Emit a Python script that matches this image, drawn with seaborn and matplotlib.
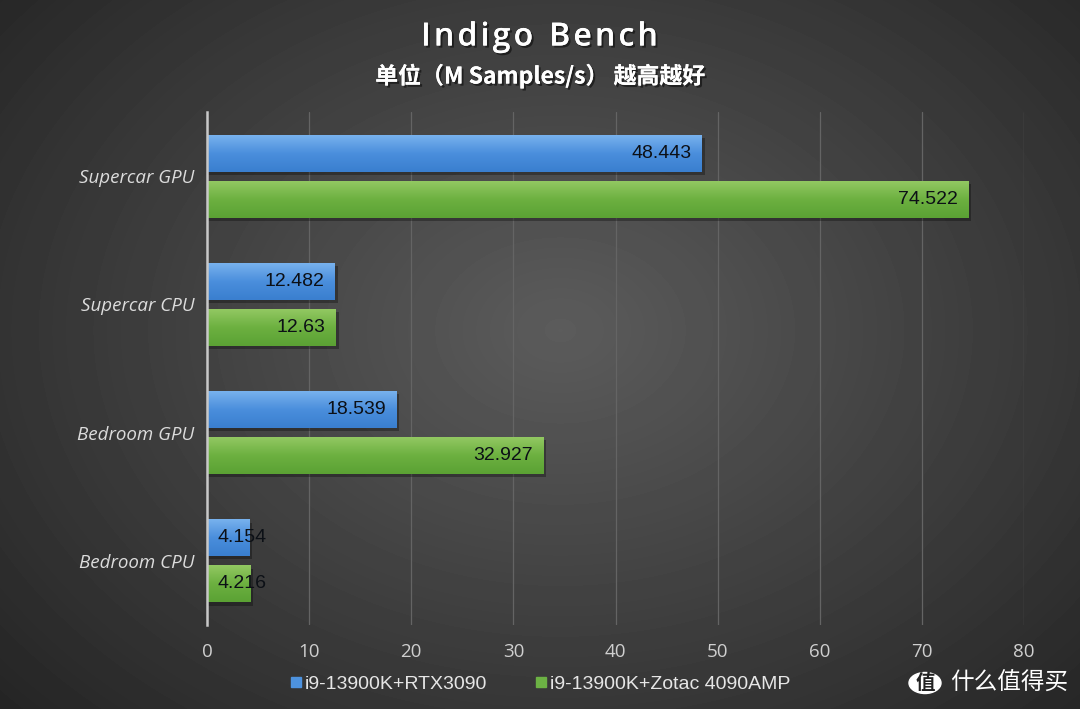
import numpy as np
import pandas as pd
import matplotlib
matplotlib.use("Agg")
import matplotlib.pyplot as plt
import matplotlib.patheffects as pe
from matplotlib.colors import LinearSegmentedColormap
import seaborn as sns

categories = ["Supercar GPU", "Supercar CPU", "Bedroom GPU", "Bedroom CPU"]
series_names = ["i9-13900K+RTX3090", "i9-13900K+Zotac 4090AMP"]
rtx3090 = [48.443, 12.482, 18.539, 4.154]
rtx4090 = [74.522, 12.63, 32.927, 4.216]
labels_3090 = ["48.443", "12.482", "18.539", "4.154"]
labels_4090 = ["74.522", "12.63", "32.927", "4.216"]
x_ticks = [0, 10, 20, 30, 40, 50, 60, 70, 80]

df = pd.DataFrame({
    "bench": categories * 2,
    "score": rtx3090 + rtx4090,
    "setup": [series_names[0]] * 4 + [series_names[1]] * 4,
})

sns.set_theme(style="white")
plt.rcParams["font.family"] = ["Noto Sans CJK SC", "DejaVu Sans"]

fig = plt.figure(figsize=(10.8, 7.09), dpi=100)

# radial gradient background
bg = fig.add_axes([0, 0, 1, 1], zorder=-10)
yy, xx = np.mgrid[0:709, 0:1080]
r = np.sqrt(((xx - 560) / 700.0) ** 2 + ((yy - 330) / 520.0) ** 2)
shade = np.clip(0.36 - 0.2 * r, 0.13, 0.4)
bg.imshow(shade, cmap="gray", vmin=0, vmax=1, aspect="auto", extent=(0, 1, 0, 1))
bg.set_axis_off()

ax = fig.add_axes([207 / 1080, 1 - 625 / 709, 817 / 1080, 513 / 709])
ax.set_facecolor("none")

blue = "#4d92de"
green = "#6cb244"
sns.barplot(data=df, y="bench", x="score", hue="setup", orient="h",
            palette=[blue, green], width=0.72, gap=0.2, ax=ax,
            legend=False, zorder=3, linewidth=0)

grads = [
    LinearSegmentedColormap.from_list("b", ["#78b2ee", "#4a8edc", "#3a7fcf"]),
    LinearSegmentedColormap.from_list("g", ["#92c862", "#6cb040", "#5ba234"]),
]
grad = np.linspace(0, 1, 64).reshape(-1, 1)
for cont, cmap in zip(ax.containers, grads):
    for bar in cont:
        x0, y0 = bar.get_x(), bar.get_y()
        w, h = bar.get_width(), bar.get_height()
        # soft drop shadow
        ax.add_patch(plt.Rectangle((x0, y0 + 0.025), w + 0.3, h, color="black",
                                   alpha=0.3, zorder=2, lw=0))
        im = ax.imshow(grad, cmap=cmap, aspect="auto", origin="lower",
                       extent=(x0, x0 + w, y0, y0 + h), zorder=4)
        im.set_clip_path(bar)

for cont, labs in zip(ax.containers, [labels_3090, labels_4090]):
    for bar, lab in zip(cont, labs):
        yc = bar.get_y() + bar.get_height() / 2
        v = bar.get_width()
        if v < 8:
            ax.text(1.0, yc, lab, ha="left", va="center", fontsize=14,
                    color="#0c1016", family="Liberation Sans", zorder=6)
        else:
            ax.text(v - 1.0, yc, lab, ha="right", va="center", fontsize=14,
                    color="#0c1016", family="Liberation Sans", zorder=6)

ax.set_xlim(0, 80)
ax.set_ylim(3.5, -0.5)
ax.set_xticks(x_ticks)
ax.xaxis.grid(True, color="#646464", lw=0.9, zorder=0)
ax.set_axisbelow(True)
for s in ["top", "right", "bottom"]:
    ax.spines[s].set_visible(False)
ax.spines["left"].set_color("#c8c8c8")
ax.spines["left"].set_linewidth(1.8)
ax.spines["left"].set_zorder(5)
ax.set_xlabel("")
ax.set_ylabel("")
ax.tick_params(axis="x", length=0, pad=13, labelsize=13.5, labelcolor="#cfcfcf")
ax.tick_params(axis="y", length=0, pad=9, labelsize=13.5, labelcolor="#dcdcdc")
for t in ax.get_xticklabels():
    t.set_family("Open Sans")
for t in ax.get_yticklabels():
    t.set_family("Open Sans")
    t.set_style("italic")

shadow = [pe.withSimplePatchShadow(offset=(1.5, -1.5), shadow_rgbFace="black", alpha=0.5), pe.Normal()]
fig.text(0.5, 1 - 37 / 709, "I n d i g o   B e n c h".replace("   ", "\u2002").replace(" ", "\u200a"),
         ha="center", va="center", family=["Open Sans", "DejaVu Sans"],
         fontsize=23, color="white", fontweight="semibold", path_effects=shadow)
fig.text(0.5, 1 - 76 / 709, "单位（M Samples/s） 越高越好", ha="center", va="center",
         fontsize=16.5, color="white", fontweight="bold", path_effects=shadow)

handles = [plt.Line2D([], [], marker="s", ls="", markersize=7, color=c) for c in (blue, green)]
leg = fig.legend(handles, series_names, loc="center", bbox_to_anchor=(0.5, 1 - 684 / 709),
                 ncol=2, frameon=False, handlelength=0.6, handletextpad=0.15,
                 columnspacing=2.5, prop={"family": "Liberation Sans", "size": 14})
for t in leg.get_texts():
    t.set_color("#e6e6e6")

# watermark
fig.patches.append(plt.Circle((925 / 1080, 1 - 683 / 709), 16 / 1080, transform=fig.transFigure,
                              color="white", zorder=10))
fig.text(925 / 1080, 1 - 683 / 709, "值", ha="center", va="center", fontsize=14,
         color="#222222", fontweight="bold", zorder=11)
fig.text(950 / 1080, 1 - 683 / 709, "什么值得买", ha="left", va="center", fontsize=17,
         color="white", fontweight="medium")

fig.savefig("out.png", dpi=100)
